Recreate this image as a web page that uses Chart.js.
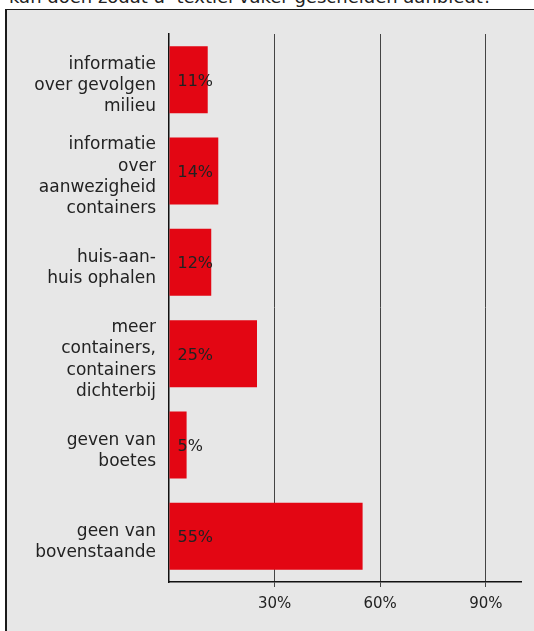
<!DOCTYPE html>
<html><head><meta charset="utf-8">
<script src="https://cdn.jsdelivr.net/npm/chart.js@4/dist/chart.umd.min.js"></script>
<style>
html,body{margin:0;padding:0;background:#fff;width:534px;height:631px;overflow:hidden;position:relative;font-family:"DejaVu Sans",sans-serif;}
#title{position:absolute;left:9px;top:-13px;font-size:18px;line-height:20px;color:#222;white-space:pre;}
#box{position:absolute;left:5px;top:9px;width:600px;height:700px;background:#e7e7e7;border-left:2px solid #1a1a1a;border-top:1px solid #1a1a1a;}
#c{position:absolute;left:0;top:0;}
</style></head><body>
<div id="title">kan doen zodat u  textiel vaker gescheiden aanbiedt?</div>
<div id="box"></div>
<canvas id="c" width="534" height="631"></canvas>
<script>
const categories = [
  ["informatie","over gevolgen","milieu"],
  ["informatie","over","aanwezigheid","containers"],
  ["huis-aan-","huis ophalen"],
  ["meer","containers,","containers","dichterbij"],
  ["geven van","boetes"],
  ["geen van","bovenstaande"]
];
const values = [11, 14, 12, 25, 5, 55];
const tickValues = [0, 30, 60, 90];
const tickLabels = ["", "30%", "60%", "90%"];

const barLabels = {
  id: 'barLabels',
  afterDatasetsDraw(chart) {
    const ctx = chart.ctx;
    const meta = chart.getDatasetMeta(0);
    ctx.save();
    ctx.font = '16px "DejaVu Sans"';
    ctx.fillStyle = '#222';
    ctx.textAlign = 'left';
    ctx.textBaseline = 'middle';
    meta.data.forEach((bar, i) => {
      ctx.fillText(values[i] + '%', bar.base + 8, bar.y + 2);
    });
    ctx.restore();
  }
};

const catLabels = {
  id: 'catLabels',
  afterDraw(chart) {
    const ctx = chart.ctx;
    const s = chart.scales.y;
    ctx.save();
    ctx.font = '17px "DejaVu Sans"';
    ctx.fillStyle = '#222';
    ctx.textAlign = 'right';
    ctx.textBaseline = 'middle';
    const lh = 21.3;
    categories.forEach((lines, i) => {
      const yc = s.getPixelForTick(i) + 6;
      lines.forEach((t, j) => {
        ctx.fillText(t, s.right - 13, yc + (j - (lines.length - 1) / 2) * lh);
      });
    });
    ctx.restore();
  }
};

const gridCol = c => (c.index === 0 ? 'rgba(0,0,0,0)' : '#444');

new Chart(document.getElementById('c'), {
  type: 'bar',
  data: {
    labels: categories,
    datasets: [{
      data: values,
      backgroundColor: '#e30613',
      borderWidth: 0,
      barPercentage: 0.734,
      categoryPercentage: 1
    }]
  },
  options: {
    indexAxis: 'y',
    responsive: false,
    animation: false,
    devicePixelRatio: 1,
    layout: { padding: { top: 34, right: 13, left: 0, bottom: 0 } },
    plugins: { legend: { display: false }, tooltip: { enabled: false }, title: { display: false } },
    scales: {
      x: {
        type: 'linear',
        min: 0, max: 100,
        afterBuildTicks: s => { s.ticks = tickValues.map(v => ({ value: v })); },
        afterFit: s => { s.height = 49; },
        grid: { color: gridCol, lineWidth: 1, drawTicks: true, tickLength: 5, tickColor: gridCol },
        border: { color: '#111', width: 1.5 },
        ticks: {
          callback: (v, i) => tickLabels[i],
          font: { family: 'DejaVu Sans', size: 15 },
          color: '#222', padding: 8, maxRotation: 0, autoSkip: false
        }
      },
      y: {
        type: 'category',
        afterFit: s => { s.width = 169; },
        grid: { display: false, drawTicks: false },
        border: { display: true, color: '#111', width: 1.5 },
        ticks: { display: false }
      }
    }
  },
  plugins: [barLabels, catLabels]
});
</script>
</body></html>
